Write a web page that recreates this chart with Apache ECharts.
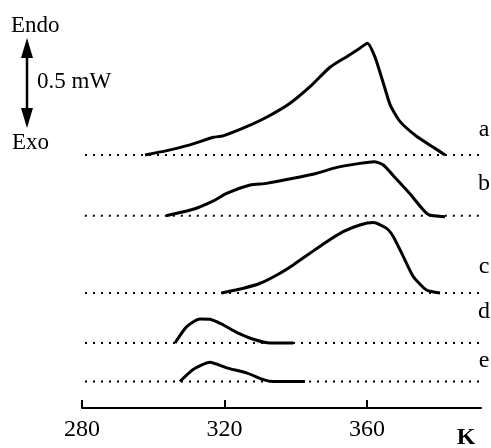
<!DOCTYPE html>
<html>
<head>
<meta charset="utf-8">
<script src="https://cdn.jsdelivr.net/npm/echarts@6/dist/echarts.min.js"></script>
<style>
  body { margin: 0; background: #fff; }
  #chart { width: 491px; height: 448px; }
</style>
</head>
<body>
<div id="chart"></div>
<script>
// temperature (K) vs heat flow above each baseline (mW)
var curveA = [[297.7, 0], [303.8, 0.024], [310.3, 0.056], [316.9, 0.098], [319.6, 0.106],
  [326.2, 0.157], [331.8, 0.209], [338.4, 0.287], [344.0, 0.379], [349.6, 0.487],
  [354.3, 0.546], [358.0, 0.593], [360.1, 0.621], [362.2, 0.546], [364.6, 0.398],
  [366.5, 0.278], [369.3, 0.185], [374.0, 0.102], [378.6, 0.043], [381.9, 0]];
var curveB = [[303.6, 0], [311.2, 0.036], [316.9, 0.083], [320.6, 0.124], [327.2, 0.171],
  [331.8, 0.18], [339.3, 0.208], [345.9, 0.236], [351.5, 0.269], [358.0, 0.291],
  [362.0, 0.3], [364.6, 0.282], [367.4, 0.222], [372.1, 0.121], [377.1, 0.008], [381.9, -0.005]];
var curveC = [[319.2, 0], [325.3, 0.026], [330.0, 0.054], [334.7, 0.1], [339.3, 0.156],
  [344.0, 0.221], [348.7, 0.285], [353.3, 0.341], [358.0, 0.378], [361.8, 0.391],
  [365.5, 0.359], [367.4, 0.313], [370.2, 0.202], [373.0, 0.091], [376.7, 0.017], [380.5, 0]];
var curveD = [[306.1, 0], [309.4, 0.091], [313.1, 0.133], [315.9, 0.132], [319.7, 0.1],
  [323.4, 0.059], [328.1, 0.021], [332.8, 0], [339.3, 0]];
var curveE = [[307.5, 0], [311.2, 0.067], [315.9, 0.107], [320.6, 0.076], [326.2, 0.048],
  [330.9, 0.011], [333.7, 0], [342.6, 0]];

var curveNames = ['a', 'b', 'c', 'd', 'e'];
var baselines = [1.406, 1.068, 0.639, 0.361, 0.147];   // vertical offsets (mW)
var baselineStart = [278.6, 280.8, 278.6, 278.6, 278.6];
var baselineEnd = 391.7;
var xTicks = [280, 320, 360];

var chart = echarts.init(document.getElementById('chart'));
var curves = [curveA, curveB, curveC, curveD, curveE];
var serif = 'Liberation Serif';
var font = '23px "' + serif + '"';

var series = [];
curves.forEach(function(c, i) {
    var off = baselines[i];
    series.push({
        name: curveNames[i] + '-base',
        type: 'line',
        symbol: 'none',
        silent: true,
        clip: false,
        lineStyle: { color: '#000', width: 2, type: [2, 6] },
        data: [[baselineStart[i], off], [baselineEnd, off]]
    });
    series.push({
        name: curveNames[i],
        type: 'line',
        symbol: 'none',
        smooth: 0.2,
        clip: false,
        lineStyle: { color: '#000', width: 3 },
        data: c.map(function(p) { return [p[0], p[1] + off]; })
    });
});

var labelY = [130, 184, 267, 312, 361];
var graphics = curveNames.map(function(n, i) {
    return {
        type: 'text', x: 484, y: labelY[i],
        style: { text: n, font: '24px "' + serif + '"', fill: '#000',
                 textAlign: 'center', textVerticalAlign: 'middle' }
    };
});
graphics.push(
    { type: 'text', x: 11, y: 26, style: { text: 'Endo', font: font, fill: '#000', textVerticalAlign: 'middle' } },
    { type: 'text', x: 37, y: 82, style: { text: '0.5 mW', font: font, fill: '#000', textVerticalAlign: 'middle' } },
    { type: 'text', x: 12, y: 143, style: { text: 'Exo', font: font, fill: '#000', textVerticalAlign: 'middle' } },
    { type: 'text', x: 466, y: 438, style: { text: 'K', font: 'bold 24px "' + serif + '"', fill: '#000', textAlign: 'center', textVerticalAlign: 'middle' } },
    { type: 'line', shape: { x1: 27, y1: 50, x2: 27, y2: 116 }, style: { stroke: '#000', lineWidth: 2.5 } },
    { type: 'polygon', shape: { points: [[27, 38], [21, 58], [33, 58]] }, style: { fill: '#000' } },
    { type: 'polygon', shape: { points: [[27, 128], [21, 108], [33, 108]] }, style: { fill: '#000' } }
);

var option = {
    animation: false,
    backgroundColor: '#fff',
    grid: { left: 82, right: 10, top: 30, bottom: 40 },
    xAxis: {
        type: 'value',
        min: 280,
        max: 392,
        interval: 40,
        splitLine: { show: false },
        axisLine: { show: true, onZero: false, lineStyle: { color: '#000', width: 2 } },
        axisTick: { show: true, inside: true, length: 8, customValues: xTicks, lineStyle: { color: '#000', width: 2 } },
        axisLabel: { customValues: xTicks, margin: 10, color: '#000', fontFamily: serif, fontSize: 24 }
    },
    yAxis: {
        type: 'value',
        min: 0,
        max: 2.1,
        show: false,
        splitLine: { show: false }
    },
    graphic: graphics,
    series: series
};
chart.setOption(option);
</script>
</body>
</html>
